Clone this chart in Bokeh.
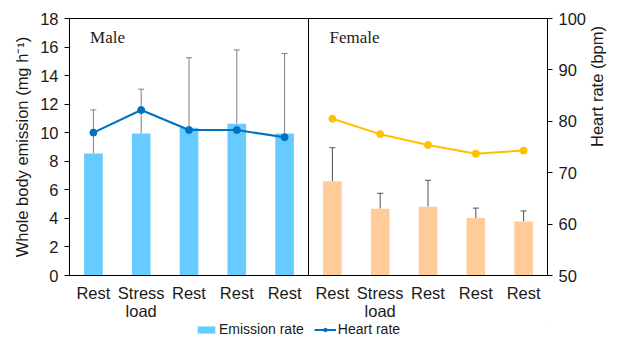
import math
from bokeh.plotting import figure
from bokeh.layouts import column
from bokeh.models import (Range1d, LinearAxis, FixedTicker, Whisker, TeeHead, ColumnDataSource,
                          Legend, LegendItem, Label, Span)
from bokeh.embed import file_html
from bokeh.resources import INLINE

# ---- data ----
categories = ["Rest", "Stress\nload", "Rest", "Rest", "Rest",
              "Rest", "Stress\nload", "Rest", "Rest", "Rest"]
male_pos = [1, 2, 3, 4, 5]
female_pos = [6, 7, 8, 9, 10]
male_emission = [8.55, 9.95, 10.35, 10.62, 9.95]
male_err_top = [11.6, 13.05, 15.25, 15.8, 15.55]
female_emission = [6.6, 4.68, 4.82, 4.02, 3.78]
female_err_top = [8.95, 5.76, 6.67, 4.72, 4.52]
male_hr = [77.8, 82.2, 78.3, 78.3, 76.9]
female_hr = [80.5, 77.5, 75.4, 73.7, 74.3]
left_ticks = [0, 2, 4, 6, 8, 10, 12, 14, 16, 18]
right_ticks = [50, 60, 70, 80, 90, 100]
legend_labels = ["Emission rate", "Heart rate"]

FONT = "Liberation Sans"
TXT = "#1a1a1a"
BLUE_BAR, PEACH_BAR = "#66CCFF", "#FFCC99"
BLUE_LINE, GOLD_LINE = "#0070C0", "#FFC000"

p = figure(width=618, height=322, output_backend="svg", toolbar_location=None,
           x_range=Range1d(0.5, 10.5), y_range=Range1d(0, 18),
           min_border_left=69, min_border_right=60, min_border_top=18, min_border_bottom=47)
p.background_fill_color = "white"
p.border_fill_color = "white"
p.outline_line_color = "black"
p.outline_line_width = 1
p.xgrid.visible = False
p.ygrid.visible = False

p.extra_y_ranges = {"hr": Range1d(50, 100)}

# axes
xa = p.xaxis[0]
xa.ticker = FixedTicker(ticks=male_pos + female_pos)
xa.major_label_overrides = {i + 1: c for i, c in enumerate(categories)}
xa.major_tick_line_color = None
xa.minor_tick_line_color = None
xa.axis_line_color = "black"
xa.major_label_text_font = FONT
xa.major_label_text_font_size = "16.5px"
xa.major_label_text_color = TXT
xa.major_label_text_line_height = 1.0
xa.major_label_standoff = 2

ya = p.yaxis[0]
ya.ticker = FixedTicker(ticks=left_ticks)
ya.minor_tick_line_color = None
ya.major_tick_out = 5
ya.major_tick_in = 0
ya.axis_line_color = "black"
ya.major_tick_line_color = "black"
ya.major_label_text_font = FONT
ya.major_label_text_font_size = "16.5px"
ya.major_label_text_color = TXT
ya.major_label_standoff = 6
ya.axis_label = "Whole body emission (mg h\u207b\u00b9)"
ya.axis_label_text_font = FONT
ya.axis_label_text_font_style = "normal"
ya.axis_label_text_font_size = "16.5px"
ya.axis_label_text_color = TXT
ya.axis_label_standoff = 6

ra = LinearAxis(y_range_name="hr", ticker=FixedTicker(ticks=right_ticks))
ra.minor_tick_line_color = None
ra.major_tick_out = 5
ra.major_tick_in = 0
ra.axis_line_color = "black"
ra.major_tick_line_color = "black"
ra.major_label_text_font = FONT
ra.major_label_text_font_size = "16.5px"
ra.major_label_text_color = TXT
ra.major_label_standoff = 6
ra.axis_label = "Heart rate (bpm)"
ra.axis_label_text_font = FONT
ra.axis_label_text_font_style = "normal"
ra.axis_label_text_font_size = "16.5px"
ra.axis_label_text_color = TXT
ra.axis_label_standoff = 8
ra.axis_label_orientation = math.pi / 2
p.add_layout(ra, "right")

# bars
msrc = ColumnDataSource(dict(x=male_pos, top=male_emission, up=male_err_top, hr=male_hr))
fsrc = ColumnDataSource(dict(x=female_pos, top=female_emission, up=female_err_top, hr=female_hr))
p.vbar(x="x", top="top", width=0.39, source=msrc, fill_color=BLUE_BAR, line_color=None)
p.vbar(x="x", top="top", width=0.39, source=fsrc, fill_color=PEACH_BAR, line_color=None)

# error bars
for src, col in ((msrc, "#808080"), (fsrc, "#505050")):
    w = Whisker(base="x", lower="top", upper="up", source=src,
                line_color=col, line_width=1,
                upper_head=TeeHead(size=6, line_color=col, line_width=1),
                lower_head=None)
    p.add_layout(w)

# divider
p.add_layout(Span(location=5.5, dimension="height", line_color="black", line_width=1))

# heart rate lines
p.line(x="x", y="hr", source=msrc, y_range_name="hr", line_color=BLUE_LINE, line_width=2)
p.scatter(x="x", y="hr", source=msrc, y_range_name="hr", size=7, fill_color=BLUE_LINE, line_color=BLUE_LINE)
p.line(x="x", y="hr", source=fsrc, y_range_name="hr", line_color=GOLD_LINE, line_width=2)
p.scatter(x="x", y="hr", source=fsrc, y_range_name="hr", size=7, fill_color=GOLD_LINE, line_color=GOLD_LINE)

# panel labels
for txt, xv in (("Male", 0.93), ("Female", 5.94)):
    p.add_layout(Label(x=xv, y=16.7, text=txt, text_font="Liberation Serif",
                       text_font_size="17px", text_color=TXT, text_baseline="middle"))

# legend strip below the chart (its renderers sit outside its visible ranges)
lg = figure(width=618, height=15, output_backend="svg", toolbar_location=None,
            x_range=Range1d(-2, -1), y_range=Range1d(-2, -1),
            x_axis_location=None, y_axis_location=None,
            min_border_left=0, min_border_right=0, min_border_top=0, min_border_bottom=0)
lg.outline_line_color = None
lg.xgrid.visible = False
lg.ygrid.visible = False
r_bar = lg.vbar(x="x", top="top", width=0.39, source=msrc, fill_color=BLUE_BAR, line_color=None)
r_line = lg.line(x="x", y="hr", source=msrc, line_color=BLUE_LINE, line_width=2)
r_dot = lg.scatter(x="x", y="hr", source=msrc, size=5, fill_color=BLUE_LINE, line_color=BLUE_LINE)
legend = Legend(items=[LegendItem(label=legend_labels[0], renderers=[r_bar]),
                       LegendItem(label=legend_labels[1], renderers=[r_line, r_dot])],
                orientation="horizontal", location=(126, 0),
                label_text_font=FONT, label_text_font_size="14px", label_text_color=TXT,
                glyph_width=22, glyph_height=9, label_standoff=2, spacing=10,
                padding=0, margin=0, border_line_color=None, background_fill_alpha=0)
lg.add_layout(legend)

layout = column(p, lg, spacing=0)
open("out.html", "w").write(file_html(layout, INLINE))
